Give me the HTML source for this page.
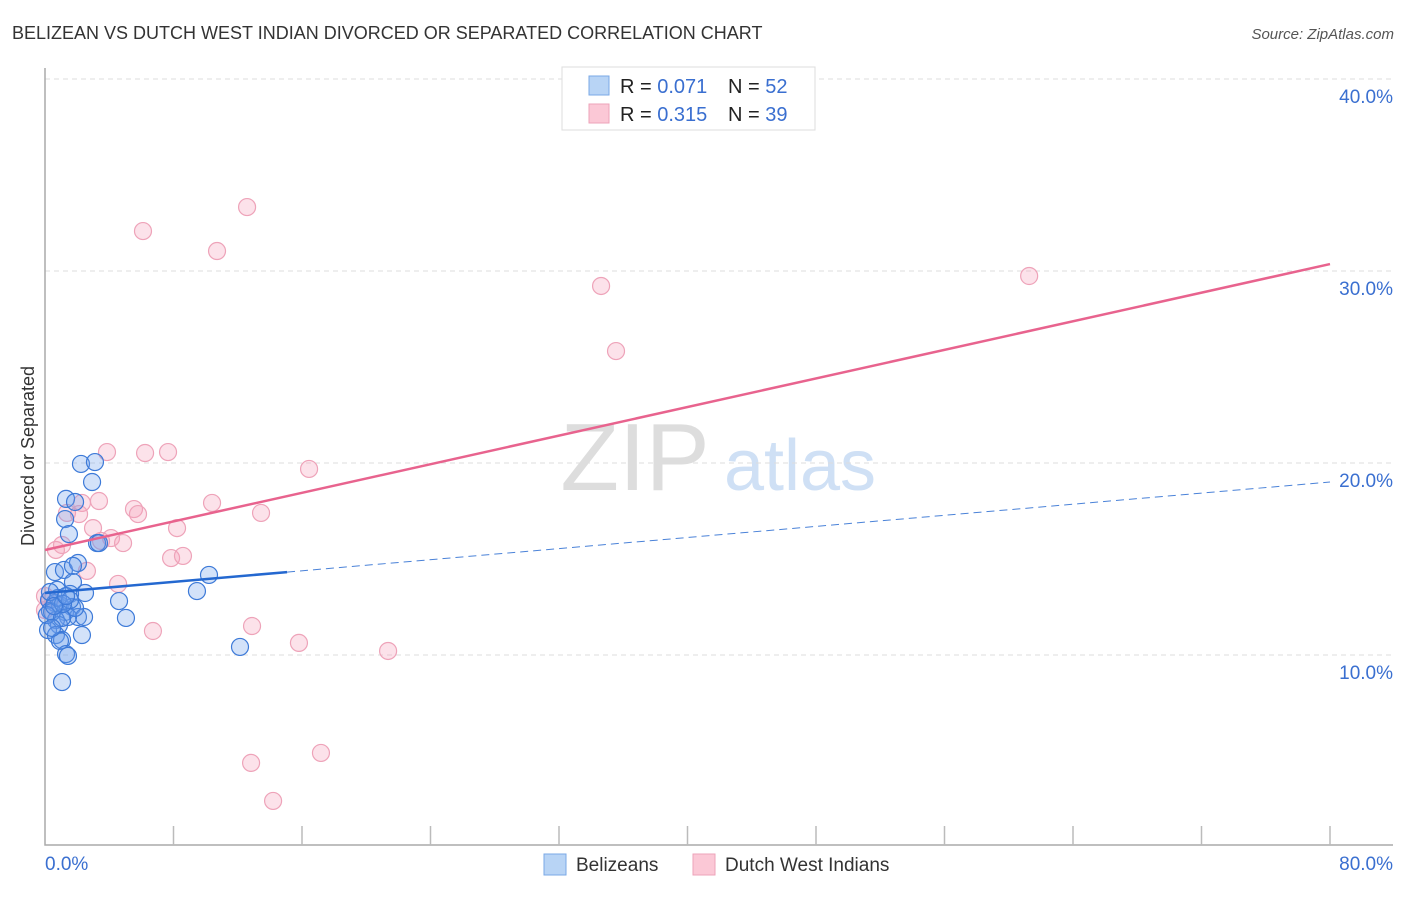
<!DOCTYPE html>
<html><head><meta charset="utf-8"><style>
body{margin:0;background:#fff;font-family:"Liberation Sans",sans-serif;}
svg text{font-family:"Liberation Sans",sans-serif;}
</style></head><body>
<svg id="chart" width="1406" height="892" xmlns="http://www.w3.org/2000/svg">
<text x="12" y="39" font-size="18" fill="#333">BELIZEAN VS DUTCH WEST INDIAN DIVORCED OR SEPARATED CORRELATION CHART</text>
<text x="1394" y="39" font-size="15" fill="#555" text-anchor="end" font-style="italic">Source: ZipAtlas.com</text>
<text x="34" y="456" font-size="18" fill="#333" text-anchor="middle" transform="rotate(-90 34 456)">Divorced or Separated</text>
<g>
<text x="635" y="490" font-size="96" fill="#ddd" text-anchor="middle" font-family="Liberation Serif">ZIP</text>
<text x="800" y="490" font-size="72" fill="#cfe0f5" text-anchor="middle">atlas</text>
</g>
<g id="grid"></g><g id="axes"></g><g id="pts"></g><g id="lines"></g>
<g>
<rect x="562" y="67" width="253" height="63" fill="#fff" stroke="#ddd"/>
<rect x="589" y="76" width="20" height="19" fill="#b8d4f5" stroke="#7aa8e6"/>
<rect x="589" y="104" width="20" height="19" fill="#fbc8d6" stroke="#eea3b9"/>
<text x="620" y="93" font-size="20" fill="#222">R = <tspan fill="#3a6fd0">0.071</tspan></text>
<text x="728" y="93" font-size="20" fill="#222">N = <tspan fill="#3a6fd0">52</tspan></text>
<text x="620" y="121" font-size="20" fill="#222">R = <tspan fill="#3a6fd0">0.315</tspan></text>
<text x="728" y="121" font-size="20" fill="#222">N = <tspan fill="#3a6fd0">39</tspan></text>
</g>
<g>
<rect x="544" y="854" width="22" height="21" fill="#b8d4f5" stroke="#7aa8e6"/>
<text x="576" y="871" font-size="19" fill="#333">Belizeans</text>
<rect x="693" y="854" width="22" height="21" fill="#fbc8d6" stroke="#eea3b9"/>
<text x="725" y="871" font-size="19" fill="#333">Dutch West Indians</text>
</g>
</svg>
<script>
const xTicks=[0,10,20,30,40,50,60,70,80];
const yTicks=[10,20,30,40];
const blueX=[2.24,3.11,2.93,1.31,1.87,1.25,1.49,3.24,3.36,0.62,1.18,2.05,1.74,1.74,0.75,2.49,1.56,0.25,0.62,0.93,1.68,0.31,1.25,2.05,2.43,1.43,0.68,0.87,0.19,0.68,2.30,1.06,0.93,1.31,1.43,1.06,4.61,5.04,10.21,9.46,12.14,0.44,0.12,1.06,0.81,1.87,0.31,0.44,1.56,1.12,0.56,1.31];
const blueY=[19.95,20.05,19.01,18.13,17.97,17.08,16.30,15.83,15.83,14.32,14.43,14.79,14.64,13.80,13.39,13.23,13.18,12.86,12.71,12.60,12.50,12.29,12.24,11.98,11.98,11.98,11.82,11.56,11.30,11.04,11.04,10.78,10.73,10.05,9.95,8.59,12.81,11.93,14.17,13.33,10.42,12.24,12.08,11.93,12.97,12.45,13.28,11.41,12.86,12.66,12.55,13.07];
const pinkX=[12.58,6.10,10.71,34.62,61.27,35.55,3.86,6.23,7.66,16.44,10.40,2.30,3.36,5.54,5.79,13.45,1.37,2.12,2.99,8.22,4.11,4.86,0.68,1.06,7.85,8.59,2.61,4.55,6.72,12.89,15.81,21.36,12.83,17.18,14.20,0,0.31,0,3.49];
const pinkY=[33.33,32.08,31.04,29.22,29.74,25.83,20.57,20.52,20.57,19.69,17.92,17.92,18.02,17.60,17.34,17.40,17.40,17.34,16.61,16.61,16.09,15.83,15.47,15.73,15.05,15.16,14.38,13.70,11.25,11.51,10.63,10.21,4.38,4.90,2.40,13.07,12.86,12.34,15.94];
const blueTrend=[13.23,19.01]; const blueSolidEnd=15.07;
const pinkTrend=[15.47,30.36];
const X=v=>45+v*(1285/80), Y=v=>847-v*19.2;
const NS='http://www.w3.org/2000/svg';
function mk(p,t,a){const e=document.createElementNS(NS,t);for(const k in a)e.setAttribute(k,a[k]);document.getElementById(p).appendChild(e);return e;}
yTicks.forEach(t=>{
 const l=mk('grid','line',{x1:45,x2:1393,y1:Y(t),y2:Y(t),stroke:'#ddd','stroke-dasharray':'5,4'});
 
 
 const tx=mk('grid','text',{x:1393,y:Y(t)+24,'font-size':19,fill:'#3a6fd0','text-anchor':'end'});tx.textContent=t.toFixed(1)+'%';
 
 
});
const ax=mk('axes','path',{d:'M45 68V845H1393',stroke:'#aaa',fill:'none','stroke-width':1.5});


for(let i=1;i<=10;i++){const x=45+i*128.5;const t=mk('axes','line',{x1:x,x2:x,y1:826,y2:845,stroke:'#bbb','stroke-width':1.5});
 
 }
[[0,'start',45],[80,'end',1393]].forEach(([v,a,x])=>{const t=mk('axes','text',{x:x,y:870,'font-size':19,fill:'#3a6fd0','text-anchor':a});t.textContent=v.toFixed(1)+'%';
 
 });
pinkX.forEach((v,i)=>{const c=mk('pts','circle',{cx:X(v),cy:Y(pinkY[i]),r:8.5,fill:'rgba(245,160,185,0.3)',stroke:'#eea3b9','stroke-width':1.2});
 
 });
blueX.forEach((v,i)=>{const c=mk('pts','circle',{cx:X(v),cy:Y(blueY[i]),r:8.5,fill:'rgba(110,160,235,0.3)',stroke:'#3d7ad8','stroke-width':1.2});
 
 });
const by=x=>blueTrend[0]+(blueTrend[1]-blueTrend[0])*x/80;
const l1=mk('lines','line',{x1:X(0),y1:Y(pinkTrend[0]),x2:X(80),y2:Y(pinkTrend[1]),stroke:'#e8638e','stroke-width':2.5});


const l2=mk('lines','line',{x1:X(0),y1:Y(by(0)),x2:X(blueSolidEnd),y2:Y(by(blueSolidEnd)),stroke:'#2468d0','stroke-width':2.5});


const l3=mk('lines','line',{x1:X(blueSolidEnd),y1:Y(by(blueSolidEnd)),x2:X(80),y2:Y(by(80)),stroke:'#4a82d8','stroke-width':1,'stroke-dasharray':'8,5'});


</script>
</body></html>
